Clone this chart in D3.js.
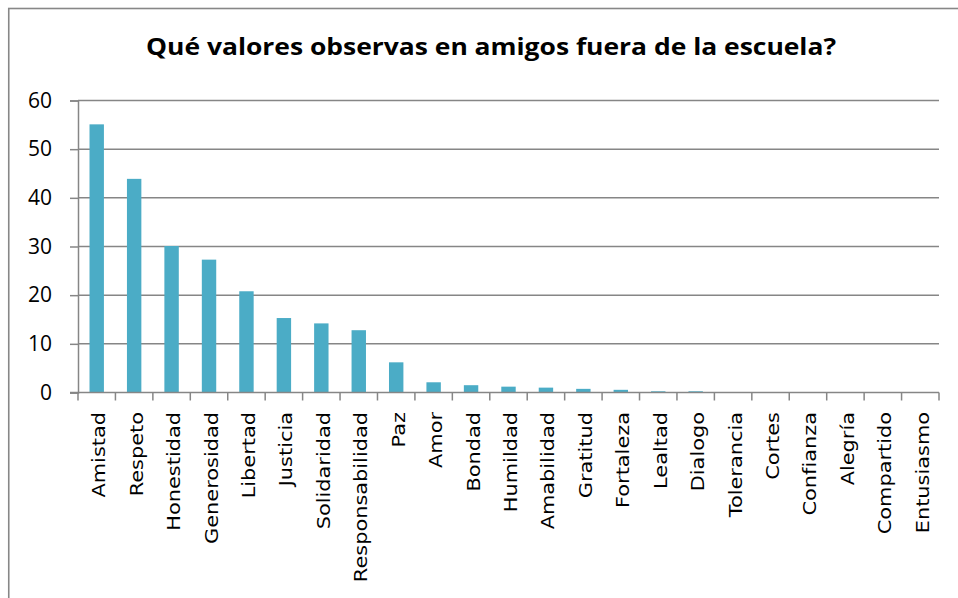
<!DOCTYPE html>
<html lang="es">
<head>
  <meta charset="UTF-8">
  <title>Qué valores observas en amigos fuera de la escuela?</title>
  <script src="https://d3js.org/d3.v7.min.js"></script>
  <style>
    body { margin: 0; background: #fff; }
    svg { display: block; }
  </style>
</head>
<body>

<div id="chart-container"></div>

<script>
// Categories and values
const categories = ["Amistad", "Respeto", "Honestidad", "Generosidad", "Libertad", "Justicia",
  "Solidaridad", "Responsabilidad", "Paz", "Amor", "Bondad", "Humildad", "Amabilidad",
  "Gratitud", "Fortaleza", "Lealtad", "Dialogo", "Tolerancia", "Cortes", "Confianza",
  "Alegría", "Compartido", "Entusiasmo"];
const values = [55.1, 43.9, 30.1, 27.3, 20.8, 15.3, 14.2, 12.8, 6.2, 2.1, 1.5, 1.2, 1.0,
  0.75, 0.55, 0.25, 0.25, 0, 0, 0, 0, 0, 0];
const yTicks = [0, 10, 20, 30, 40, 50, 60];
const title = "Qué valores observas en amigos fuera de la escuela?";

const data = categories.map((c, i) => ({ name: c, value: values[i] }));

const width = 958, height = 598;
const plot = { left: 78, right: 939, top: 100.5, bottom: 392.5 };
const font = "'Open Sans', sans-serif";
const gridColor = "#868686";

const svg = d3.select("#chart-container")
  .append("svg")
  .attr("width", width)
  .attr("height", height);

svg.append("rect")
  .attr("width", width).attr("height", height)
  .attr("fill", "#fff");

// chart frame (runs off the right and bottom edges)
svg.append("rect")
  .attr("x", 8.75).attr("y", 8.5)
  .attr("width", width + 20).attr("height", height + 20)
  .attr("fill", "none")
  .attr("stroke", "#878787")
  .attr("stroke-width", 1.6);

svg.append("text")
  .attr("x", 146).attr("y", 55)
  .attr("textLength", 690)
  .attr("lengthAdjust", "spacingAndGlyphs")
  .style("font-family", font)
  .style("font-size", "24px")
  .style("font-weight", "bold")
  .attr("fill", "#000")
  .text(title);

const x = d3.scaleBand()
  .domain(categories)
  .range([plot.left, plot.right])
  .paddingInner(0)
  .paddingOuter(0);

const y = d3.scaleLinear()
  .domain([0, 60])
  .range([plot.bottom, plot.top]);

// gridlines
svg.append("g")
  .selectAll("line")
  .data(yTicks.filter(d => d > 0))
  .join("line")
  .attr("x1", plot.left).attr("x2", plot.right)
  .attr("y1", d => y(d)).attr("y2", d => y(d))
  .attr("stroke", gridColor)
  .attr("stroke-width", 1.5);

// bars
const barW = x.bandwidth() * 0.385;
svg.append("g")
  .selectAll("rect")
  .data(data.filter(d => d.value > 0))
  .join("rect")
  .attr("x", d => x(d.name) + (x.bandwidth() - barW) / 2)
  .attr("y", d => y(d.value))
  .attr("width", barW)
  .attr("height", d => y(0) - y(d.value))
  .attr("fill", "#4BACC6");

// y axis
const yAxis = svg.append("g")
  .attr("transform", `translate(${plot.left},0)`)
  .call(d3.axisLeft(y).tickValues(yTicks).tickSize(8).tickPadding(18).tickFormat(d3.format("d")));
yAxis.select(".domain").attr("stroke", gridColor).attr("stroke-width", 1.5);
yAxis.selectAll(".tick line").attr("stroke", gridColor).attr("stroke-width", 1.5);
yAxis.selectAll(".tick text")
  .style("font-family", font)
  .style("font-size", "21px")
  .attr("fill", "#000");

// x axis: baseline and ticks at band boundaries
const xg = svg.append("g");
xg.append("line")
  .attr("x1", plot.left - 8).attr("x2", plot.right)
  .attr("y1", y(0)).attr("y2", y(0))
  .attr("stroke", gridColor).attr("stroke-width", 1.5);
xg.selectAll("line.tk")
  .data(categories.concat(["end"]))
  .join("line")
  .attr("class", "tk")
  .attr("x1", (d, i) => plot.left + i * x.step())
  .attr("x2", (d, i) => plot.left + i * x.step())
  .attr("y1", y(0)).attr("y2", y(0) + 8)
  .attr("stroke", gridColor).attr("stroke-width", 1.5);

xg.selectAll("text")
  .data(categories)
  .join("text")
  .attr("transform", d => `translate(${x(d) + x.bandwidth() / 2 + 8.5},412) rotate(-90) scale(1.16,1)`)
  .attr("text-anchor", "end")
  .style("font-family", "'DejaVu Sans', sans-serif")
  .style("font-size", "18px")
  .attr("fill", "#000")
  .text(d => d);
</script>

</body>
</html>
